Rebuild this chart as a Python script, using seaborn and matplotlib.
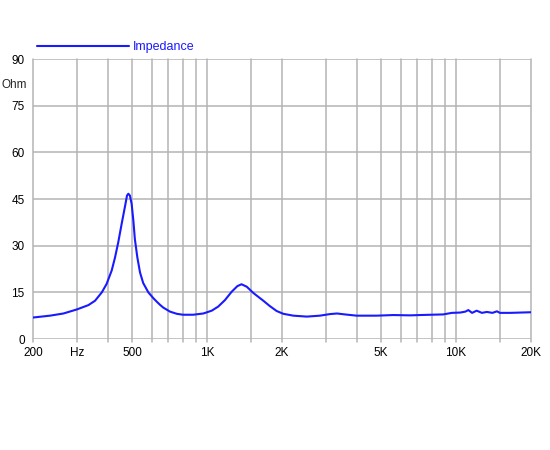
import pandas as pd
import seaborn as sns
import matplotlib.pyplot as plt
import numpy as np

freq = [200, 234, 265, 300, 334, 355, 378, 395, 414, 427, 440, 454, 469, 477, 483, 490, 498, 506,
        513, 525, 538, 554, 581, 609, 628, 647, 667, 710, 756, 800, 880, 966, 1044, 1108, 1180,
        1256, 1324, 1375, 1444, 1534, 1683, 1786, 1903, 2024, 2221, 2518, 2839, 3111, 3325, 3577,
        3990, 4800, 5590, 6540, 7150, 8880, 9620, 10400, 10900, 11200, 11600, 12100, 12700, 13300,
        14000, 14600, 15000, 16500, 20000]
ohm = [6.9, 7.5, 8.2, 9.5, 10.9, 12.3, 15.0, 17.7, 22.0, 26.2, 31.1, 37.0, 42.9, 46.1, 46.7, 46.1, 43.4, 38.0,
       32.1, 26.2, 21.4, 18.0, 15.0, 13.1, 12.0, 11.0, 10.1, 8.8, 8.1, 7.8, 7.8, 8.2, 9.1, 10.4, 12.5,
       15.2, 17.0, 17.6, 16.8, 14.8, 12.3, 10.6, 9.0, 8.1, 7.5, 7.2, 7.5, 8.0, 8.2, 7.9,
       7.5, 7.5, 7.7, 7.6, 7.7, 7.9, 8.4, 8.5, 8.8, 9.3, 8.4, 9.1, 8.4, 8.7,
       8.4, 8.9, 8.4, 8.4, 8.6]

grid_x = [200, 300, 400, 500, 600, 700, 800, 900, 1000, 1500, 2000, 3000, 4000, 5000,
          6000, 7000, 8000, 9000, 10000, 15000, 20000]
xtick_pos = [200, 300, 500, 1000, 2000, 5000, 10000, 20000]
xtick_lab = ['200', 'Hz', '500', '1K', '2K', '5K', '10K', '20K']
ytick_pos = [0, 15, 30, 45, 60, 75, 90]

df = pd.DataFrame({'Frequency': freq, 'Impedance': ohm})

sns.set_style('white')
plt.rcParams['font.family'] = ['Liberation Sans', 'DejaVu Sans']

fig = plt.figure(figsize=(5.5, 4.5), dpi=100)
ax = fig.add_axes([33 / 550, 1 - 339 / 450, 498 / 550, 280 / 450])

grid_col = '#b4b4b4'
for g in grid_x:
    ax.axvline(g, color=grid_col, lw=1.1, zorder=0, clip_on=False, ymin=-0.012)
for t in ytick_pos:
    ax.axhline(t, color=grid_col, lw=1.1, zorder=0)

sns.lineplot(data=df, x='Frequency', y='Impedance', ax=ax, color='#1a1aff', lw=1.5, label='Impedance')

ax.set_xscale('log')
ax.set_xlim(200, 20000)
ax.set_ylim(0, 90)
ax.set_xticks(xtick_pos)
ax.set_xticklabels(xtick_lab)
ax.xaxis.set_minor_locator(plt.NullLocator())
ax.set_yticks(ytick_pos)
ax.tick_params(axis='both', labelsize=8.5, colors='black', length=4, width=1.1, pad=2)
ax.tick_params(axis='x', length=0, pad=6)
ax.tick_params(axis='y', color=grid_col)
for s in ax.spines.values():
    s.set_visible(False)
ax.set_xlabel('')
ax.set_ylabel('')
ax.text(-0.012, 0.908, 'Ohm', transform=ax.transAxes, ha='right', va='center', fontsize=8.5)

leg = ax.legend(loc='center left', bbox_to_anchor=(0.008, 1 + 12 / 280), frameon=False, fontsize=9,
                handlelength=7.4, handletextpad=0.25, borderaxespad=0, borderpad=0)
for t in leg.get_texts():
    t.set_color('#1a1aff')

fig.savefig('out.png', dpi=100)
